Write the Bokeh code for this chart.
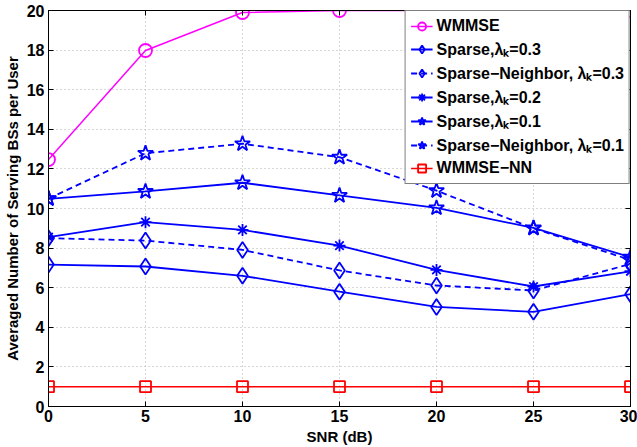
from bokeh.plotting import figure
from bokeh.models import Range1d, Legend, LegendItem, LinearAxis, FixedTicker
from bokeh.embed import file_html
from bokeh.resources import INLINE

snr = [0, 5, 10, 15, 20, 25, 30]
wmmse = [12.47, 17.98, 19.9, 20.0, 20.0, 20.0, 20.0]
sparse_03 = [7.17, 7.07, 6.6, 5.8, 5.03, 4.78, 5.67]
neigh_03 = [8.5, 8.38, 7.91, 6.87, 6.11, 5.86, 7.2]
sparse_02 = [8.55, 9.31, 8.92, 8.13, 6.9, 6.06, 6.83]
sparse_01 = [10.49, 10.86, 11.3, 10.66, 10.03, 9.02, 7.54]
neigh_01 = [10.5, 12.79, 13.27, 12.59, 10.9, 9.0, 7.4]
wmmse_nn = [1, 1, 1, 1, 1, 1, 1]

x_ticks = [0, 5, 10, 15, 20, 25, 30]
y_ticks = [0, 2, 4, 6, 8, 10, 12, 14, 16, 18, 20]

FONT = "Liberation Sans"
BLUE = "#0000FF"

p = figure(width=637, height=447, output_backend="svg", toolbar_location=None,
           x_range=Range1d(0, 30), y_range=Range1d(0, 20),
           min_border_left=0, min_border_right=7, min_border_top=10, min_border_bottom=0)
p.background_fill_color = "white"
p.border_fill_color = "white"
p.outline_line_color = "black"
p.outline_line_width = 1

for ax in (p.xaxis[0], p.yaxis[0]):
    ax.major_label_text_font = FONT
    ax.major_label_text_font_style = "bold"
    ax.major_label_text_font_size = "16px"
    ax.major_label_text_color = "black"
    ax.axis_label_text_font = FONT
    ax.axis_label_text_font_style = "bold"
    ax.axis_label_text_font_size = "15px"
    ax.axis_label_text_color = "black"
    ax.major_tick_in = 5
    ax.major_tick_out = 0
    ax.minor_tick_in = 0
    ax.minor_tick_out = 0
    ax.axis_line_color = "black"
    ax.major_tick_line_color = "black"

p.xaxis.ticker = FixedTicker(ticks=x_ticks)
p.yaxis.ticker = FixedTicker(ticks=y_ticks)
p.xaxis.axis_label = "SNR (dB)"
p.yaxis.axis_label = "Averaged Number of Serving BSs per User"
p.xaxis.major_label_standoff = 3
p.yaxis.major_label_standoff = 4
p.xaxis.axis_label_standoff = 3
p.yaxis.axis_label_standoff = 3

for loc, tk in (("right", y_ticks), ("above", x_ticks)):
    a = LinearAxis(ticker=FixedTicker(ticks=tk),
                   major_label_overrides={t: "" for t in tk},
                   major_tick_in=5, major_tick_out=0, minor_tick_in=0, minor_tick_out=0,
                   axis_line_color="black", major_label_standoff=0)
    p.add_layout(a, loc)

p.xgrid.ticker = FixedTicker(ticks=x_ticks)
p.ygrid.ticker = FixedTicker(ticks=y_ticks)
for g in (p.xgrid[0], p.ygrid[0]):
    g.grid_line_color = "#b0b0b0"
    g.grid_line_dash = "1 3"
    g.grid_line_width = 1

items = []

def series(y, color, marker, size, dash="solid", lw=1.8, label=""):
    r1 = p.line(snr, y, line_color=color, line_width=lw, line_dash=dash)
    r2 = p.scatter(snr, y, marker=marker, size=size, line_color=color,
                   fill_color=None, line_width=1.8)
    items.append(LegendItem(label=label, renderers=[r1, r2]))

series(wmmse, "#FF00FF", "circle", 13, lw=1.5, label="WMMSE")
series(sparse_03, BLUE, "diamond", 16, label="Sparse,λₖ=0.3")
series(neigh_03, BLUE, "diamond", 16, dash="6 4", label="Sparse−Neighbor, λₖ=0.3")
series(sparse_02, BLUE, "asterisk", 12, label="Sparse,λₖ=0.2")
series(sparse_01, BLUE, "star", 16, label="Sparse,λₖ=0.1")
series(neigh_01, BLUE, "star", 16, dash="6 4", label="Sparse−Neighbor, λₖ=0.1")
series(wmmse_nn, "#FF0000", "square", 11, lw=1.5, label="WMMSE−NN")

legend = Legend(items=items, location="top_right")
legend.label_text_font = FONT
legend.label_text_font_style = "bold"
legend.label_text_font_size = "16px"
legend.label_text_color = "black"
legend.border_line_color = "black"
legend.border_line_width = 1
legend.background_fill_color = "white"
legend.background_fill_alpha = 1
legend.glyph_width = 22
legend.glyph_height = 20
legend.label_height = 20
legend.label_standoff = 4
legend.spacing = 2
legend.padding = 5
legend.margin = 0
p.add_layout(legend)

open("out.html", "w").write(file_html(p, INLINE))
